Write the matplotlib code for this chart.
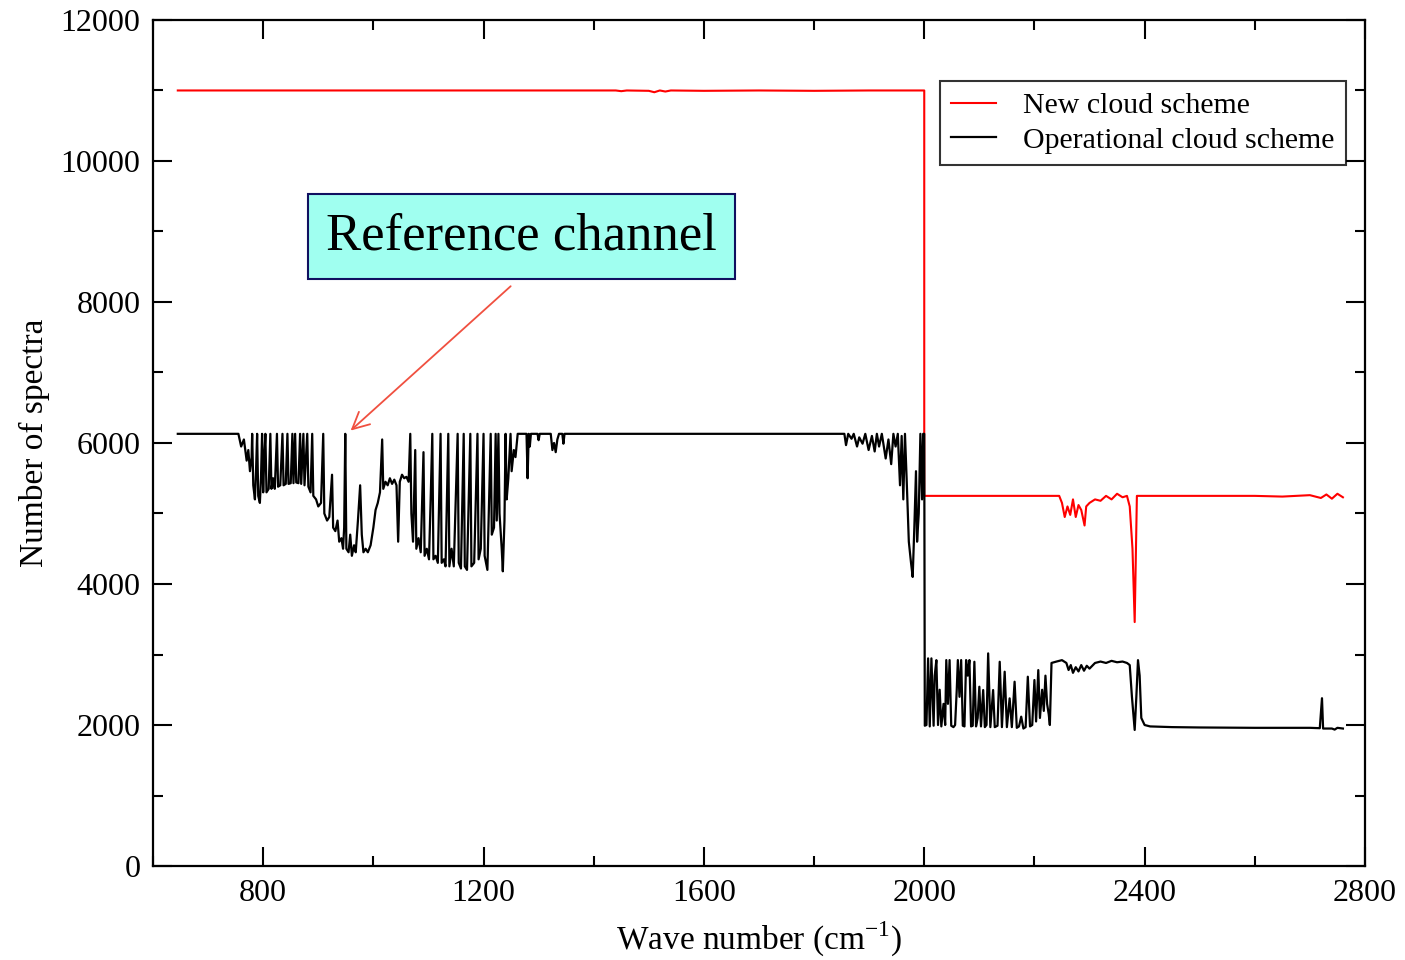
import matplotlib
matplotlib.use('Agg')
import matplotlib.pyplot as plt
from matplotlib.ticker import MultipleLocator

plt.rcParams['font.family'] = ['Liberation Serif', 'DejaVu Serif']
plt.rcParams['mathtext.fontset'] = 'custom'
plt.rcParams['mathtext.rm'] = 'Liberation Serif'

# New cloud scheme
new_wn = [645, 1440, 1450, 1460, 1500, 1510, 1520, 1530, 1540, 1600, 1700, 1800, 1900, 2000,
          2000, 2245, 2250, 2255, 2260, 2265, 2270, 2275, 2280, 2285, 2291, 2294, 2300,
          2310, 2320, 2330, 2340, 2350, 2360, 2368, 2373, 2378, 2382, 2386, 2600, 2650,
          2700, 2720, 2730, 2740, 2750, 2760]
new_val = [11000, 11000, 10990, 11000, 10995, 10975, 11000, 10985, 11000, 10995, 11000, 10995, 11000, 11000,
           5250, 5250, 5150, 4950, 5100, 4980, 5200, 4950, 5120, 5050, 4830, 5100, 5150,
           5200, 5180, 5250, 5200, 5280, 5230, 5250, 5100, 4500, 3460, 5250, 5250, 5240,
           5260, 5220, 5270, 5210, 5280, 5230]

# Operational cloud scheme
op_wn = [645, 755, 760, 765, 770, 773, 776, 779,
         780, 782, 785, 787, 789, 791, 794, 796, 798, 800, 802, 804, 806, 810, 813, 815, 818, 821,
         825, 827, 831, 835, 837, 841, 844, 846, 850, 853, 855, 858, 860, 864, 867, 869, 873, 875,
         880, 882, 886, 889, 891, 896, 900, 905, 909, 911, 916, 920, 925, 927, 931, 935, 938, 942,
         945, 947, 949, 951, 955, 958, 961, 965, 968, 972, 976, 979, 982, 986, 990, 995, 1000,
         1004, 1008, 1012, 1016, 1018, 1022, 1026, 1030, 1034, 1038, 1042, 1045, 1048, 1052, 1056,
         1060, 1064, 1067, 1069, 1072, 1076, 1078, 1082, 1086, 1091, 1093, 1097, 1101, 1104, 1107,
         1109, 1113, 1117, 1122, 1124, 1128, 1131, 1136, 1138, 1142, 1146, 1153, 1155, 1159, 1164,
         1166, 1170, 1176, 1178, 1183, 1189, 1191, 1195, 1200, 1202, 1207, 1213, 1215, 1219, 1222,
         1224, 1227, 1229, 1233, 1235, 1238, 1240, 1242, 1245, 1249, 1251, 1255, 1258, 1262,
         1278, 1280, 1282, 1284, 1286, 1298, 1300, 1302, 1322, 1325, 1328, 1331, 1334, 1337,
         1343, 1345, 1347, 1850,
         1855, 1858, 1862, 1868, 1872, 1878, 1882, 1888, 1893, 1899, 1905, 1910, 1914, 1918, 1923,
         1930, 1935, 1940, 1944, 1948, 1952, 1956, 1959, 1962, 1965, 1968, 1972, 1976, 1979, 1982,
         1985, 1987, 1990, 1993, 1996, 1998, 2000,
         2001, 2004, 2007, 2010, 2013, 2017, 2019, 2022, 2025, 2028, 2031, 2035, 2038, 2040, 2043,
         2046, 2049, 2053, 2056, 2059, 2061, 2064, 2067, 2070, 2073, 2076, 2079, 2082, 2085, 2088,
         2091, 2094, 2097, 2100, 2103, 2107, 2110, 2113, 2116, 2120, 2125, 2128, 2133, 2137, 2141,
         2146, 2150, 2155, 2159, 2164, 2168, 2172, 2176, 2180, 2184, 2188, 2192, 2196, 2200, 2203,
         2207, 2210, 2214, 2217, 2220, 2223, 2226, 2228, 2231, 2240, 2250, 2258, 2262, 2266, 2270,
         2275, 2280, 2285, 2290, 2295, 2300, 2310, 2320, 2330, 2340, 2350, 2360, 2368, 2373, 2377,
         2382, 2385, 2388, 2391, 2394, 2400, 2410, 2450, 2500, 2600, 2700, 2718, 2722, 2724, 2740,
         2745, 2750, 2760]
op_val = [6130, 6130, 5950, 6050, 5750, 5900, 5600, 5800,
          6130, 5400, 5200, 5600, 6130, 5250, 5150, 5500, 6130, 5300, 5800, 6130, 5300, 5350, 6130, 5350, 5500, 5350,
          6130, 5380, 5400, 6130, 5400, 5420, 6130, 5420, 5430, 6130, 5430, 6130, 5440, 5430, 6130, 5420, 6130, 5400,
          6130, 5380, 5300, 6130, 5250, 5200, 5100, 5150, 6130, 5000, 4900, 4950, 5550, 4800, 4750, 4900, 4600, 4650,
          4500, 4800, 6130, 4500, 4450, 4700, 4400, 4550, 4450, 4900, 5400, 4700, 4450, 4500, 4450, 4550, 4800,
          5050, 5150, 5300, 6050, 5350, 5450, 5400, 5500, 5420, 5480, 5400, 4600, 5450, 5550, 5500,
          5520, 5450, 6130, 5000, 4600, 5900, 4500, 4650, 4450, 5870, 4400, 4500, 4350, 5200, 6130,
          4350, 4400, 4300, 6130, 4300, 4350, 4250, 6130, 4250, 4500, 4250, 6130, 4300, 4220, 6130,
          4250, 4200, 6130, 4250, 4300, 6130, 4350, 4500, 6130, 4400, 4200, 6130, 4700, 4800, 6130,
          4900, 6130, 5000, 4500, 4180, 4900, 6130, 5200, 5500, 6130, 5600, 5900, 5800, 6130,
          6130, 5500, 6130, 5950, 6130, 6130, 6040, 6130, 6130, 5900, 6000, 5870, 6050, 6130,
          6130, 5990, 6130, 6130,
          6130, 5970, 6130, 6060, 6130, 5950, 6080, 5990, 6130, 5900, 6100, 5880, 6130, 5950, 6130,
          5780, 6050, 5700, 6130, 5950, 6130, 5400, 6100, 5200, 6130, 5500, 4600, 4300, 4100, 4800,
          5600, 4600, 5000, 6130, 5200, 6130, 6130,
          1990, 2000, 2945, 1980, 2945, 1990, 2700, 2920, 2000, 2500, 1980, 2300, 2000, 2921, 2300,
          2921, 1990, 1970, 2000, 2500, 2921, 2400, 2921, 1990, 1980, 2921, 2700, 2921, 1980, 1990,
          2897, 1980, 2100, 2543, 1980, 2496, 1970, 2000, 3016, 1970, 2496, 1970, 1990, 2897, 1970,
          2756, 1970, 2378, 1970, 2614, 1960, 1980, 2118, 1950, 1970, 2685, 1980, 2000, 2638, 2050,
          2779, 2100, 2500, 2200, 2700, 2300, 2150, 2000, 2880, 2900, 2920, 2880, 2780, 2850, 2740,
          2820, 2760, 2850, 2770, 2840, 2800, 2880, 2900, 2880, 2910, 2890, 2900, 2880, 2850, 2400,
          1930, 2400, 2920, 2700, 2100, 2000, 1980, 1970, 1965, 1960, 1960, 1955, 2380, 1950, 1950,
          1935, 1960, 1950]

legend_labels = ['New cloud scheme', 'Operational cloud scheme']
xticks = [800, 1200, 1600, 2000, 2400, 2800]
yticks = [0, 2000, 4000, 6000, 8000, 10000, 12000]


fig = plt.figure(figsize=(14.05, 9.6), dpi=100)
ax = fig.add_axes([0.1089, 0.0979, 0.8626, 0.8813])

ax.plot(new_wn, new_val, color='#ff0000', lw=1.5, label=legend_labels[0])
ax.plot(op_wn, op_val, color='black', lw=1.6, label=legend_labels[1])

ax.set_xlim(600, 2800)
ax.set_ylim(0, 12000)
ax.set_xticks(xticks)
ax.set_yticks(yticks)
ax.xaxis.set_minor_locator(MultipleLocator(200))
ax.yaxis.set_minor_locator(MultipleLocator(1000))
ax.tick_params(which='both', direction='in', top=True, right=True, width=1.5, labelsize=23)
ax.tick_params(which='major', length=14, pad=9)
ax.tick_params(which='minor', length=7)
for s in ax.spines.values():
	s.set_linewidth(1.6)

ax.set_xlabel('Wave number (cm$^{-1}$)', fontsize=24, labelpad=9)
ax.set_ylabel('Number of spectra', fontsize=24, labelpad=8)

leg = ax.legend(loc='upper right', bbox_to_anchor=(0.984, 0.928), borderaxespad=0,
                fontsize=21.5, fancybox=False, frameon=True, handlelength=1.5,
                handletextpad=0.9, labelspacing=0.25, borderpad=0.38)
leg.get_frame().set_edgecolor('black')
leg.get_frame().set_linewidth(1.5)

# Reference channel callout
ax.text(1269, 8930, 'Reference channel', fontsize=38, ha='center', va='center',
        bbox=dict(boxstyle='square,pad=0.35', facecolor='#a0fff0', edgecolor='#101060', linewidth=1.5))
ax.annotate('', xy=(955, 6150), xytext=(1253, 8250),
            arrowprops=dict(arrowstyle='->', color='#f05040', lw=1.3, mutation_scale=30))

fig.savefig('out.png', dpi=100)
